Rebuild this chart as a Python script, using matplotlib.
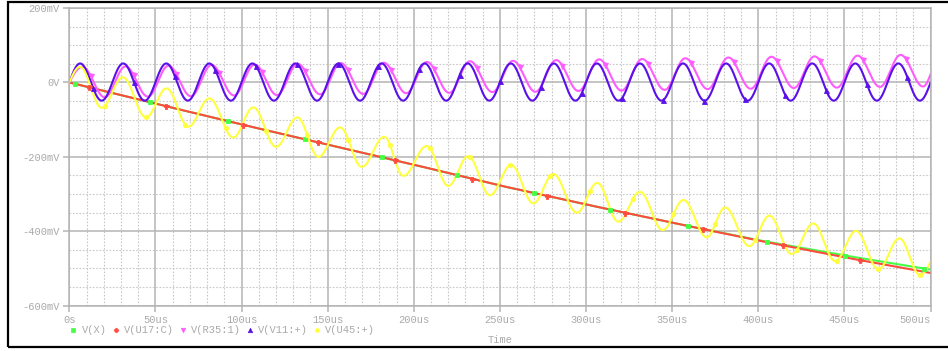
import numpy as np
import matplotlib
matplotlib.use("Agg")
import matplotlib.pyplot as plt
from matplotlib.patches import Rectangle

# ---------------- data (time in us, voltage in mV) ----------------
ramp_t = [0, 50, 100, 150, 200, 250, 300, 350, 400, 450, 500]
v_u17 = [0, -57, -113, -167, -221, -277, -328, -377, -425, -470, -512]
v_x = [0, -57, -113, -167, -221, -277, -328, -377, -424, -465, -503]

# V(V11:+) extrema
v11_peak_t = [6.3, 31.3, 56.3, 81.3, 106.3, 131.3, 156.3, 181.3, 206.3, 231.3,
              256.3, 281.3, 306.3, 331.3, 356.3, 381.3, 406.3, 431.3, 456.3, 481.3]
v11_peak_v = [51, 51, 51, 51, 51, 51, 51, 51, 51, 51,
              51, 51, 51, 51, 51, 51, 51, 51, 51, 51]
v11_trough_t = [18.8, 43.8, 68.8, 93.8, 118.8, 143.8, 168.8, 193.8, 218.8, 243.8,
                268.8, 293.8, 318.8, 343.8, 368.8, 393.8, 418.8, 443.8, 468.8, 493.8]
v11_trough_v = [-49, -49, -49, -49, -49, -49, -49, -49, -49, -49,
                -49, -49, -49, -49, -49, -49, -49, -49, -49, -49]
v11_end = 0

# V(R35:1) extrema
r35_peak_t = [7.6, 32.6, 57.6, 82.6, 107.6, 132.6, 157.6, 182.6, 207.6, 232.6,
              257.6, 282.6, 307.6, 332.6, 357.6, 382.6, 407.6, 432.6, 457.6, 482.6]
r35_peak_v = [42, 43, 45, 47, 48, 50, 52, 53, 55, 57,
              58, 60, 62, 63, 65, 67, 69, 70, 72, 74]
r35_trough_t = [20.6, 45.6, 70.6, 95.6, 120.6, 145.6, 170.6, 195.6, 220.6, 245.6,
                270.6, 295.6, 320.6, 345.6, 370.6, 395.6, 420.6, 445.6, 470.6, 495.6]
r35_trough_v = [-40, -38, -37, -35, -34, -32, -31, -29, -28, -26,
                -25, -23, -22, -20, -18, -17, -15, -14, -12, -11]
r35_end = 22

# V(U45:+) extrema
u45_peak_t = [6.2, 31.0, 56.5, 81.3, 106.8, 132.4, 157.2, 182.8, 207.5, 231.6,
              256.5, 281.0, 306.5, 331.3, 356.5, 380.7, 406.4, 431.9, 456.7, 481.9]
u45_peak_v = [42, 14, -16, -43, -67, -94, -121, -146, -171, -198,
              -222, -246, -270, -294, -316, -336, -358, -379, -399, -419]
u45_trough_t = [18.8, 44.5, 69.1, 95.2, 120.0, 144.6, 169.8, 193.9, 220.0, 244.2,
                269.4, 294.6, 318.7, 344.5, 370.0, 394.8, 419.4, 444.6, 469.7, 493.9]
u45_trough_v = [-68, -94, -119, -148, -173, -200, -227, -251, -278, -303,
                -325, -350, -374, -397, -416, -440, -461, -480, -502, -518]
u45_end = -481

# marker times on each trace
mk_x_t = [3.3, 46.9, 92.3, 137.0, 181.4, 225.3, 270.0, 313.9, 359.4, 404.9, 450.3, 496.4]
mk_u17_t = [11.6, 56.1, 100.7, 144.6, 189.1, 233.6, 277.2, 322.6, 368.1, 414.3, 459.0]
mk_r35_t = [12.4, 37.3, 62.2, 87.1, 112.0, 136.9, 161.8, 186.7, 211.6, 236.5,
            261.4, 286.3, 311.2, 336.1, 361.0, 385.9, 410.8, 435.7, 460.6, 485.5]
mk_v11_t = [13.9, 37.5, 61.2, 84.8, 108.4, 132.1, 155.7, 179.3, 203.0, 226.6, 250.2,
            273.9, 297.5, 321.1, 344.8, 368.4, 392.0, 415.7, 439.3, 462.9, 486.5]
mk_u45_t = [20.7, 44.5, 67.2, 90.7, 114.3, 138.0, 162.0, 186.2, 209.4, 232.6, 255.8,
            279.0, 302.3, 327.1, 350.7, 374.9, 398.1, 422.3, 445.5, 469.7, 493.9]

x_ticks = [0, 50, 100, 150, 200, 250, 300, 350, 400, 450, 500]
x_labels = ["0s", "50us", "100us", "150us", "200us", "250us", "300us",
            "350us", "400us", "450us", "500us"]
y_ticks = [200, 0, -200, -400, -600]
y_labels = ["200mV", "0V", "-200mV", "-400mV", "-600mV"]

names = ["V(X)", "V(U17:C)", "V(R35:1)", "V(V11:+)", "V(U45:+)"]
colors = ["#44ff44", "#ff4a40", "#ff5cff", "#5a10e8", "#ffff40"]
markers = ["s", "P", "v", "^", "o"]
marker_sizes = [3.2, 3.6, 3.6, 3.6, 3.2]


def through_extrema(peak_t, peak_v, trough_t, trough_v, end_v, tgrid):
    """Smooth curve through the listed extrema, starting at 0 V."""
    kt = np.array([0.0] + sorted(peak_t + trough_t) + [500.0])
    ext = dict(zip(peak_t, peak_v))
    ext.update(dict(zip(trough_t, trough_v)))
    kv = np.array([0.0] + [ext[t] for t in kt[1:-1]] + [end_v])
    out = np.empty_like(tgrid)
    last = len(kt) - 2
    for i in range(len(kt) - 1):
        m = (tgrid >= kt[i]) & (tgrid <= kt[i + 1])
        s = (tgrid[m] - kt[i]) / (kt[i + 1] - kt[i])
        if i == 0:
            shape = np.sin(0.5 * np.pi * s)
        elif i == last:
            shape = 1 - np.cos(0.5 * np.pi * s)
        else:
            shape = 0.5 * (1 - np.cos(np.pi * s))
        out[m] = kv[i] + (kv[i + 1] - kv[i]) * shape
    return out


t = np.linspace(0, 500, 4001)
series = [
    np.interp(t, ramp_t, v_x),
    np.interp(t, ramp_t, v_u17),
    through_extrema(r35_peak_t, r35_peak_v, r35_trough_t, r35_trough_v, r35_end, t),
    through_extrema(v11_peak_t, v11_peak_v, v11_trough_t, v11_trough_v, v11_end, t),
    through_extrema(u45_peak_t, u45_peak_v, u45_trough_t, u45_trough_v, u45_end, t),
]
marker_times = [mk_x_t, mk_u17_t, mk_r35_t, mk_v11_t, mk_u45_t]

# ---------------- figure ----------------
W, H = 948, 351
fig = plt.figure(figsize=(W / 100, H / 100), dpi=100)
fig.patch.set_facecolor("white")

def fx(px):
    return px / W

def fy(py):
    return 1 - py / H

ax = fig.add_axes([fx(69.3), fy(305.7), fx(930.6) - fx(69.3), fy(8) - fy(305.7)])
ax.set_xlim(0, 500)
ax.set_ylim(-600, 200)

grid_major = "#b4b4b4"
grid_minor = "#c8c8c8"
for xv in np.arange(10, 500, 10):
    if xv % 50:
        ax.axvline(xv, color=grid_minor, lw=0.8, ls=(0, (1.5, 1.5)), zorder=0)
for yv in np.arange(-550, 200, 50):
    if yv % 200:
        ax.axhline(yv, color=grid_minor, lw=0.8, ls=(0, (1.5, 1.5)), zorder=0)
for xv in x_ticks:
    ax.axvline(xv, color=grid_major, lw=1.1, zorder=0.5)
for yv in y_ticks:
    ax.axhline(yv, color=grid_major, lw=1.1, zorder=0.5)

draw_order = [4, 2, 3, 0, 1]
for i in draw_order:
    ax.plot(t, series[i], color=colors[i], lw=1.5, zorder=2 + i * 0.1,
            solid_joinstyle="round")
    mt = np.array(marker_times[i])
    ax.plot(mt, np.interp(mt, t, series[i]), ls="none", marker=markers[i],
            ms=marker_sizes[i], color=colors[i], mec=colors[i], mew=0.6,
            zorder=3 + i * 0.1, clip_on=False)

for sp in ax.spines.values():
    sp.set_color(grid_major)
    sp.set_linewidth(1.1)

txt_color = "#a9a9a9"
font = dict(family=["Liberation Mono", "DejaVu Sans Mono"], size=7.5)
ax.set_xticks(x_ticks)
ax.set_xticklabels(x_labels, color=txt_color, **font)
ax.set_yticks(y_ticks)
ax.set_yticklabels(y_labels, color=txt_color, **font)
ax.get_xticklabels()[-1].set_horizontalalignment("right")
ax.tick_params(axis="both", direction="out", length=4, width=1.1,
               color=grid_major, pad=3)

fig.text(fx(500), fy(340), "Time", ha="center", va="center", color=txt_color, **font)

legend_marker_x = [73.3, 116.0, 182.7, 250.0, 317.3]
legend_text_x = [81.7, 124.0, 190.7, 258.3, 325.0]
ly = 330
for i in range(5):
    fig.add_artist(plt.Line2D([fx(legend_marker_x[i])], [fy(ly)], ls="none",
                              marker=markers[i], ms=marker_sizes[i] - 0.4,
                              color=colors[i], mew=0.5, transform=fig.transFigure))
    fig.text(fx(legend_text_x[i]), fy(ly), names[i], ha="left", va="center",
             color=txt_color, **font)

# outer frame
fig.add_artist(Rectangle((fx(8), fy(347)), fx(970) - fx(8), fy(2) - fy(347),
                         transform=fig.transFigure, fill=False, ec="black",
                         lw=1.6, clip_on=False))

fig.savefig("out.png", dpi=100)
